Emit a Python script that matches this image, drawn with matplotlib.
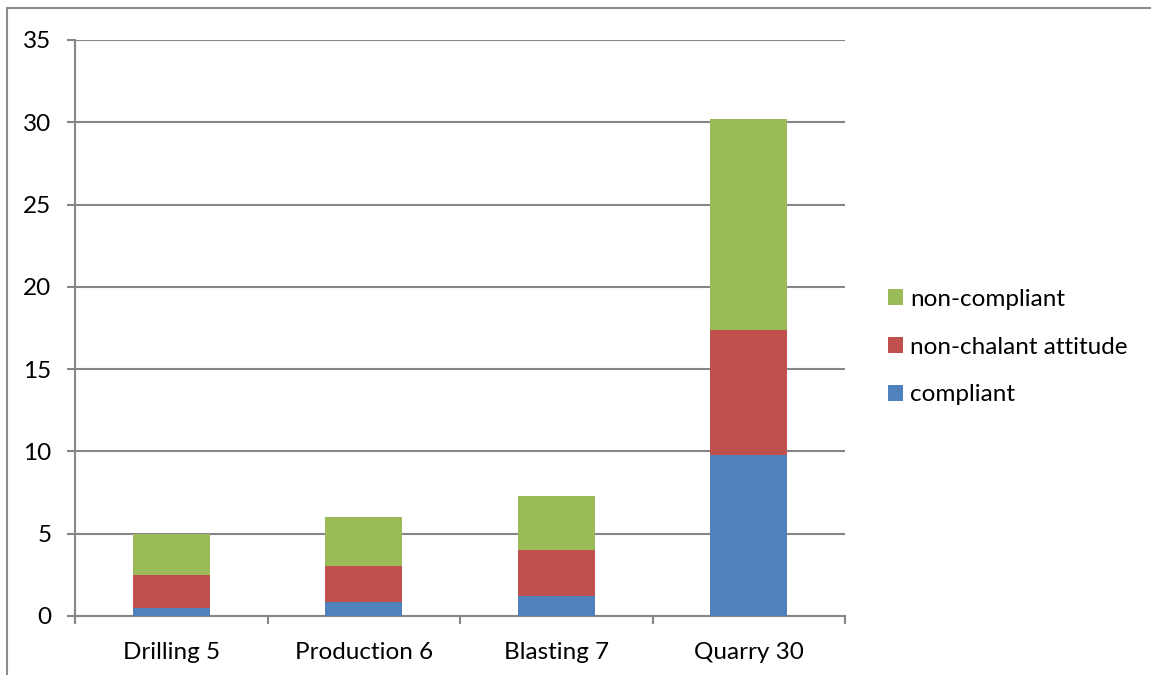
import matplotlib
matplotlib.use("Agg")
import matplotlib.pyplot as plt
from matplotlib.patches import Rectangle
import numpy as np

categories = ["Drilling 5", "Production 6", "Blasting 7", "Quarry 30"]
compliant = [0.5, 0.85, 1.2, 9.8]
nonchalant = [2.0, 2.2, 2.8, 7.6]
noncompliant = [2.5, 2.95, 3.3, 12.8]

plt.rcParams['font.family'] = ['Lato', 'DejaVu Sans']

fig = plt.figure(figsize=(11.51, 6.75), dpi=100)
W, H = 1151, 675
ax = fig.add_axes([75 / W, 1 - 616 / H, (845 - 75) / W, (616 - 40) / H])

# outer chart border
fig.patches.append(Rectangle((7 / W, -0.1), 1.2, 1 - 8 / H + 0.1, transform=fig.transFigure,
                             fill=False, edgecolor="#8c8c8c", linewidth=1.5))

x = np.arange(len(categories))
bottom2 = np.array(compliant) + np.array(nonchalant)
ax.bar(x, compliant, width=0.4, color="#4F81BD", label="compliant", zorder=3)
ax.bar(x, nonchalant, width=0.4, bottom=compliant, color="#C0504D",
       label="non-chalant attitude", zorder=3)
ax.bar(x, noncompliant, width=0.4, bottom=bottom2, color="#9BBB59",
       label="non-compliant", zorder=3)

grid_c = "#868686"
fs = 17.5
ax.set_ylim(0, 35)
ax.set_yticks(range(0, 36, 5))
ax.set_xlim(-0.5, len(categories) - 0.5)
ax.set_xticks(x)
ax.set_xticklabels(categories)
ax.set_xticks(np.arange(-0.5, len(categories)), minor=True)
ax.tick_params(axis="x", which="major", length=0, pad=19, labelsize=fs)
ax.tick_params(axis="x", which="minor", length=6, width=1.5, color=grid_c, direction="out")
ax.tick_params(axis="y", length=6, width=1.5, color=grid_c, pad=11, labelsize=fs)
ax.yaxis.grid(True, color=grid_c, linewidth=1.5, zorder=0)
for s in ["top", "right"]:
    ax.spines[s].set_visible(False)
for s in ["left", "bottom"]:
    ax.spines[s].set_color(grid_c)
    ax.spines[s].set_linewidth(1.5)

handles, labels = ax.get_legend_handles_labels()
ax.legend(handles[::-1], labels[::-1], loc="center left",
          bbox_to_anchor=(866 / W, 1 - 347 / H), bbox_transform=fig.transFigure,
          frameon=False, fontsize=fs, handlelength=0.62, handleheight=0.62,
          handletextpad=0.3, labelspacing=1.1)

fig.savefig("out.png", dpi=100)
